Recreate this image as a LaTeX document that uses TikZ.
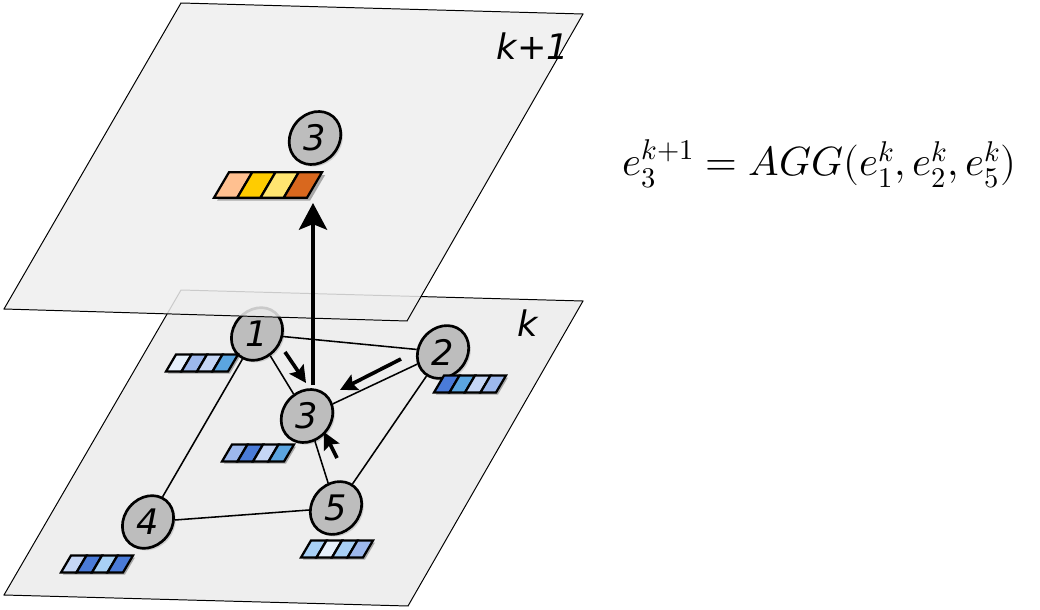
\documentclass[tikz,border=0pt]{standalone}
\usepackage{fontspec}
\usepackage{unicode-math}
\usepackage{graphicx}
\usetikzlibrary{shapes.geometric,arrows.meta,shadows}

\newfontfamily\hand{DejaVu Sans}

% colours of the planes, nodes and feature vectors
\definecolor{planegray}{HTML}{EEEEEE}
\definecolor{nodegray}{HTML}{BDBDBD}
\definecolor{bpale}{HTML}{E6F0FB}
\definecolor{bmid}{HTML}{9DB8EC}
\definecolor{blight}{HTML}{C5D6F5}
\definecolor{bsky}{HTML}{5BA5E0}
\definecolor{bdeep}{HTML}{4A7BD8}
\definecolor{bsoft}{HTML}{A8D0F5}
\definecolor{opeach}{HTML}{FFC090}
\definecolor{ogold}{HTML}{FFCC00}
\definecolor{oyellow}{HTML}{FFE570}
\definecolor{oburnt}{HTML}{D9681E}

\newcommand{\vlabel}[1]{\rotatebox{40}{\fontsize{25}{25}\selectfont\hand\itshape #1}}

\tikzset{
  plane/.style={fill=planegray, draw=black, line width=0.7pt},
  vert/.style={ellipse, draw, line width=1.9pt, fill=nodegray, inner sep=0pt,
    minimum width=0.95cm, minimum height=1.4cm, rotate=-40,
    drop shadow={opacity=.3, shadow xshift=1.5pt, shadow yshift=-1.5pt}},
  layerlabel/.style={font=\fontsize{25}{25}\selectfont\hand\itshape},
  edge/.style={line width=1.1pt},
  msg/.style={line width=2.6pt, -{Stealth[length=12pt,width=12pt,inset=2pt]}},
  uparrow/.style={line width=2.8pt, -{Stealth[length=19pt,width=20pt,inset=4pt]}},
  cell/.style={draw=black, line width=1.6pt},
  pics/featvec/.style n args={4}{code={
    \fill[black, opacity=.3] (-34,10.5) -- ++(62,0) -- ++(10,-17) -- ++(-62,0) -- cycle;
    \foreach \c [count=\i from 0] in {#1,#2,#3,#4}
      \filldraw[fill=\c, cell] (-36+15.5*\i,8.5) -- ++(15.5,0) -- ++(10,-17) -- ++(-15.5,0) -- cycle;
  }}
}

\begin{document}
\begin{tikzpicture}[x=0.025cm, y=-0.025cm]
  \useasboundingbox (0,0) rectangle (1040,610);

  % layer k
  \fill[plane] (181,290) -- (583,301) -- (408,606) -- (4,595) -- cycle;
  \node[layerlabel] (labk) at (528,323) {k};

  % graph on layer k
  \node[vert] (n1) at (257,334) {\vlabel{1}};
  \node[vert] (n2) at (443,352) {\vlabel{2}};
  \node[vert] (n3) at (307,416) {\vlabel{3}};
  \node[vert] (n4) at (148,522) {\vlabel{4}};
  \node[vert] (n5) at (336,508) {\vlabel{5}};

  \draw[edge] (n1) -- (n2);
  \draw[edge] (n1) -- (n3);
  \draw[edge] (n1) -- (n4);
  \draw[edge] (n2) -- (n3);
  \draw[edge] (n2) -- (n5);
  \draw[edge] (n3) -- (n5);
  \draw[edge] (n4) -- (n5);

  % feature vectors e^k
  \pic at (202,363) {featvec={bpale}{bmid}{blight}{bsky}};
  \pic at (470,384) {featvec={bdeep}{bsky}{blight}{bmid}};
  \pic at (258,453) {featvec={bmid}{bdeep}{blight}{bsky}};
  \pic at (97,564) {featvec={blight}{bdeep}{bsoft}{bdeep}};
  \pic at (337,549) {featvec={bsoft}{bpale}{bsoft}{bmid}};

  % messages towards node 3
  \coordinate (m1a) at (285,352);
  \coordinate (m1b) at (306,383);
  \coordinate (m2a) at (401,359);
  \coordinate (m2b) at (340,390);
  \coordinate (m5a) at (337,458);
  \coordinate (m5b) at (324,432);
  \draw[msg] (m1a) -- (m1b);
  \draw[msg] (m2a) -- (m2b);
  \draw[msg] (m5a) -- (m5b);

  % layer k+1
  \fill[plane, fill opacity=.85, draw opacity=1] (181,3) -- (583,14) -- (407,321) -- (4,309) -- cycle;
  \node[layerlabel] (labk1) at (533,46) {k+1};

  \node[vert] (u3) at (315,138) {\vlabel{3}};
  \pic[scale=1.5] at (268,185) {featvec={opeach}{ogold}{oyellow}{oburnt}};

  % aggregation arrow
  \coordinate (up0) at (313,385);
  \coordinate (up1) at (313,203);
  \draw[uparrow] (up0) -- (up1);

  % update rule
  \node[anchor=base west, font=\fontsize{29}{34}\selectfont] (rule) at (618,176)
    {$e_3^{k+1} = AGG(e_1^k, e_2^k, e_5^k)$};
\end{tikzpicture}
\end{document}
